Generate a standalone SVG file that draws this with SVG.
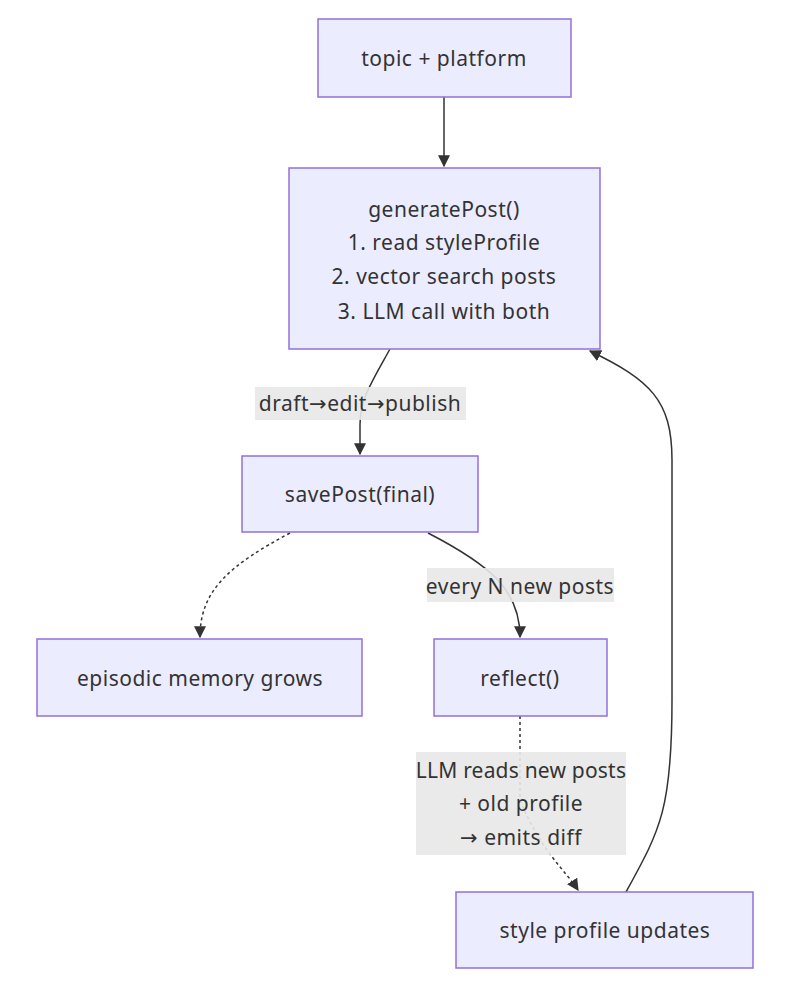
<svg xmlns="http://www.w3.org/2000/svg" width="800" height="997" viewBox="0 0 800 997">
<style>
.node rect{fill:#ECECFF;stroke:#9370DB;stroke-width:1.5}
text{font-family:"Noto Sans","DejaVu Sans",sans-serif;font-size:21px;letter-spacing:0.5px;fill:#333;text-anchor:middle;dominant-baseline:central}
.edge{fill:none;stroke:#333;stroke-width:1.5}
.dot{stroke-dasharray:3 3}
.lbl{fill:#e8e8e8;opacity:0.9}
</style>
<defs>
<marker id="ah" viewBox="0 0 10 10" refX="9" refY="5" markerWidth="12" markerHeight="12" markerUnits="userSpaceOnUse" orient="auto">
<path d="M0,0 L10,5 L0,10 z" fill="#333"/>
</marker>
</defs>
<rect width="800" height="997" fill="#fff"/>
<g id="edges">
<path class="edge" d="M444,97 L444,166" marker-end="url(#ah)"/>
<path class="edge" d="M390,349 C370,385 360,400 360,425 L360,454" marker-end="url(#ah)"/>
<path class="edge dot" d="M290,533 C230,565 200,590 200,637" marker-end="url(#ah)"/>
<path class="edge" d="M428,533 C490,565 520,590 520,637" marker-end="url(#ah)"/>
<path class="edge dot" d="M520,716 L520,800 C540,850 565,870 578,890" marker-end="url(#ah)"/>
<path class="edge" d="M626,892 C660,830 672,810 672,700 L672,460 C672,400 650,380 590,351" marker-end="url(#ah)"/>
<rect class="lbl" x="255" y="387" width="211" height="33"/>
<text x="360" y="403">draft→edit→publish</text>
<rect class="lbl" x="427" y="568" width="187" height="34"/>
<text x="520" y="586">every N new posts</text>
<rect class="lbl" x="416" y="752" width="210" height="103"/>
<text x="521" y="770" style="letter-spacing:0.2px">LLM reads new posts</text>
<text x="521" y="803">+ old profile</text>
<text x="521" y="837">→ emits diff</text>
</g>
<g id="topic" class="node"><rect x="318" y="19" width="253" height="78"/><text x="444" y="58">topic + platform</text></g>
<g id="generatePost" class="node"><rect x="289" y="168" width="311" height="181"/>
<text x="444" y="209">generatePost()</text>
<text x="444" y="242">1. read styleProfile</text>
<text x="444" y="276">2. vector search posts</text>
<text x="444" y="311">3. LLM call with both</text></g>
<g id="savePost" class="node"><rect x="242" y="456" width="236" height="76"/><text x="360" y="494">savePost(final)</text></g>
<g id="episodic" class="node"><rect x="37" y="639" width="325" height="77"/><text x="200" y="678">episodic memory grows</text></g>
<g id="reflect" class="node"><rect x="434" y="639" width="173" height="77"/><text x="520" y="678">reflect()</text></g>
<g id="styleProfile" class="node"><rect x="456" y="892" width="297" height="76"/><text x="605" y="930">style profile updates</text></g>
</svg>
